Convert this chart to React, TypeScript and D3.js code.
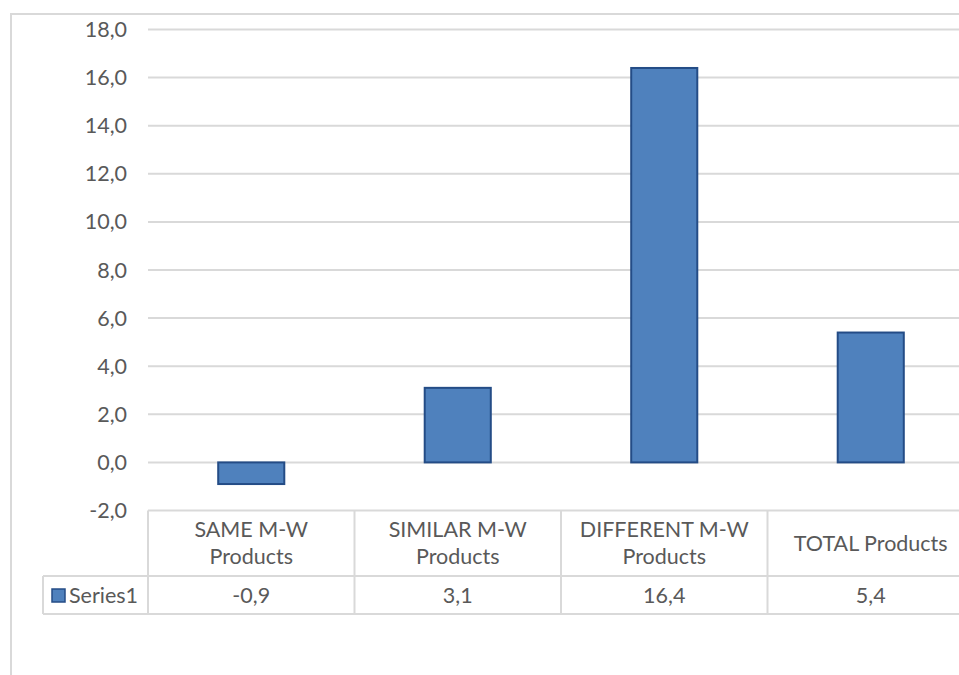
import React from "react";
import * as d3 from "d3";

const categories = [
  ["SAME M-W", "Products"],
  ["SIMILAR M-W", "Products"],
  ["DIFFERENT M-W", "Products"],
  ["TOTAL Products"],
];
const values = [-0.9, 3.1, 16.4, 5.4];
const yTicks = [-2, 0, 2, 4, 6, 8, 10, 12, 14, 16, 18];
const seriesName = "Series1";

const W = 959;
const H = 675;
const FONT = "Lato, 'Open Sans', sans-serif";
const TEXT = "#595959";
const GRID = "#D9D9D9";
const FS = 21.5;

const fmt = (v: number) => v.toFixed(1).replace(".", ",");

export default function App() {
  const y = d3.scaleLinear().domain([-2, 18]).range([510.5, 29.5]);
  const keys = categories.map((_, i) => String(i));
  const x = d3
    .scaleBand<string>()
    .domain(keys)
    .range([148, 974])
    .paddingInner(0.68)
    .paddingOuter(0.34);
  const step = x.step();
  const colLeft = (i: number) => 148 + i * step;

  const tableTop = y(-2);
  const rowSep = 576;
  const tableBottom = 614;
  const legendLeft = 43;

  return (
    <svg
      width={W}
      height={H}
      style={{ position: "fixed", left: 0, top: 0, background: "#fff" }}
      fontFamily={FONT}
    >
      {/* outer frame */}
      <rect x={11} y={14} width={W + 20} height={H + 20} fill="#fff" stroke={GRID} strokeWidth={2} />

      {/* gridlines */}
      {yTicks.filter((t) => t !== -2).map((t) => (
        <line key={t} x1={148} x2={W} y1={y(t)} y2={y(t)} stroke={GRID} strokeWidth={2} />
      ))}

      {/* y tick labels */}
      {yTicks.map((t) => (
        <text
          key={t}
          x={127}
          y={y(t)}
          dy="0.35em"
          textAnchor="end"
          fontSize={FS}
          fill={TEXT}
        >
          {fmt(t)}
        </text>
      ))}

      {/* bars */}
      {values.map((v, i) => {
        const y0 = y(Math.max(0, v));
        const y1 = y(Math.min(0, v));
        return (
          <rect
            key={i}
            x={x(keys[i])!}
            y={y0}
            width={x.bandwidth()}
            height={y1 - y0}
            fill="#4F81BD"
            stroke="#244C86"
            strokeWidth={2}
          />
        );
      })}

      {/* data table lines */}
      <line x1={148} x2={W} y1={tableTop} y2={tableTop} stroke={GRID} strokeWidth={2} />
      <line x1={legendLeft} x2={W} y1={rowSep} y2={rowSep} stroke={GRID} strokeWidth={2} />
      <line x1={legendLeft} x2={W} y1={tableBottom} y2={tableBottom} stroke={GRID} strokeWidth={2} />
      <line x1={legendLeft} x2={legendLeft} y1={rowSep} y2={tableBottom} stroke={GRID} strokeWidth={2} />
      {categories.map((_, i) => (
        <line
          key={i}
          x1={colLeft(i)}
          x2={colLeft(i)}
          y1={tableTop}
          y2={tableBottom}
          stroke={GRID}
          strokeWidth={2}
        />
      ))}

      {/* category labels */}
      {categories.map((lines, i) => {
        const cx = colLeft(i) + step / 2;
        const mid = (tableTop + rowSep) / 2;
        const lh = 27;
        const start = mid - ((lines.length - 1) * lh) / 2;
        return (
          <text key={i} textAnchor="middle" fontSize={FS} fill={TEXT}>
            {lines.map((l, j) => (
              <tspan key={j} x={cx} y={start + j * lh} dy="0.35em">
                {l}
              </tspan>
            ))}
          </text>
        );
      })}

      {/* values row */}
      {values.map((v, i) => (
        <text
          key={i}
          x={colLeft(i) + step / 2}
          y={(rowSep + tableBottom) / 2}
          dy="0.35em"
          textAnchor="middle"
          fontSize={FS}
          fill={TEXT}
        >
          {fmt(v)}
        </text>
      ))}

      {/* legend key */}
      <rect x={52} y={589} width={13} height={13} fill="#4F81BD" stroke="#244C86" strokeWidth={1.5} />
      <text x={69} y={(rowSep + tableBottom) / 2} dy="0.35em" fontSize={FS} fill={TEXT}>
        {seriesName}
      </text>
    </svg>
  );
}
